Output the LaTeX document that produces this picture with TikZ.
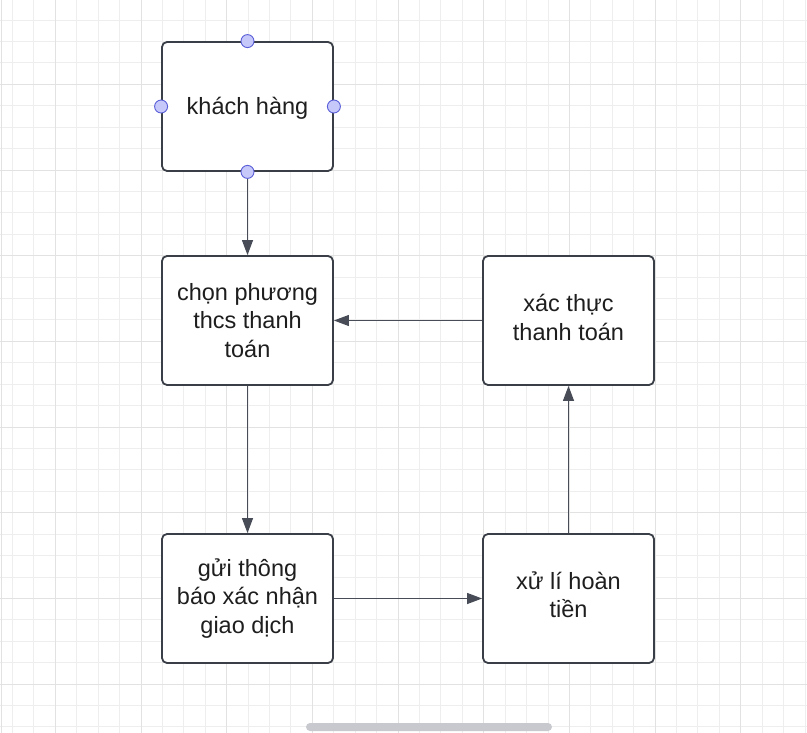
\documentclass[tikz,border=0pt]{standalone}
\usepackage{fontspec}
\setmainfont{Liberation Sans}
\usetikzlibrary{arrows.meta}
\definecolor{minorgrid}{HTML}{EEEEEE}
\definecolor{majorgrid}{HTML}{E2E2E2}
\definecolor{boxline}{HTML}{3A3E47}
\definecolor{arrline}{HTML}{474C57}
\definecolor{txt}{HTML}{1E1E1E}
\definecolor{hfill}{HTML}{C6C8FA}
\definecolor{hline}{HTML}{5B5FD8}
\definecolor{scrollc}{HTML}{C7C9CF}
\tikzset{
  stepbox/.style={draw=boxline, line width=1.8pt, rounded corners=5pt, fill=white,
    minimum width=171pt, minimum height=129pt, inner sep=0pt,
    text=txt, align=center, font=\fontsize{23.5pt}{28.5pt}\selectfont},
  boxtext/.style={text=txt, align=center, inner sep=0pt, font=\fontsize{23.5pt}{28.5pt}\selectfont},
  flow/.style={draw=arrline, line width=1.1pt, -{Triangle[length=15pt,width=11pt]}},
  handle/.style={circle, draw=hline, fill=hfill, line width=0.9pt, minimum size=13pt, inner sep=0pt}
}
\begin{document}
\begin{tikzpicture}[x=1pt,y=-1pt]
\useasboundingbox (0,0) rectangle (807,733);
\fill[white] (0,0) rectangle (807,733);
% grid
\foreach \i in {-1,...,37} {
  \draw[minorgrid, line width=0.9pt] ({55.3+21.42*(\i-2)},0) -- ({55.3+21.42*(\i-2)},733);
}
\foreach \i in {-4,...,34} {
  \draw[minorgrid, line width=0.9pt] (0,{84.3+21.42*\i}) -- (807,{84.3+21.42*\i});
}
\foreach \i in {-1,...,9} {
  \draw[majorgrid, line width=0.9pt] ({55.3+85.68*\i},0) -- ({55.3+85.68*\i},733);
}
\foreach \i in {-1,...,8} {
  \draw[majorgrid, line width=0.9pt] (0,{84.3+85.68*\i}) -- (807,{84.3+85.68*\i});
}
\draw[majorgrid, line width=0.9pt] (1.7,0) -- (1.7,733);
% nodes
\node[stepbox] (kh) at (247.5,106.5) {};
\node[stepbox] (chon) at (247.5,320.5) {};
\node[stepbox] (xt) at (568.5,320.5) {};
\node[stepbox] (gui) at (247.5,598.5) {};
\node[stepbox] (xl) at (568.5,598.5) {};
\node[boxtext] (khT) at ([yshift=-2pt]kh.center) {khách hàng};
\node[boxtext] (chonT) at (chon.center) {chọn phương\\thcs thanh\\toán};
\node[boxtext] (xtT) at ([yshift=3pt]xt.center) {xác thực\\thanh toán};
\node[boxtext] (guiT) at (gui.center) {gửi thông\\báo xác nhận\\giao dịch};
\node[boxtext] (xlT) at ([yshift=4pt]xl.center) {xử lí hoàn\\tiền};
% connectors
\draw[flow] (kh.south) -- (chon.north);
\draw[flow] (chon.south) -- (gui.north);
\draw[flow] (gui.east) -- (xl.west);
\draw[flow] (xl.north) -- (xt.south);
\draw[flow] (xt.west) -- (chon.east);
% selection handles
\node[handle] (h1) at (kh.north) {};
\node[handle] (h2) at (kh.west) {};
\node[handle] (h3) at (kh.east) {};
\node[handle] (h4) at (kh.south) {};
% scroll bar
\fill[scrollc, rounded corners=4pt] (306,723) rectangle (552,731);
\end{tikzpicture}
\end{document}
